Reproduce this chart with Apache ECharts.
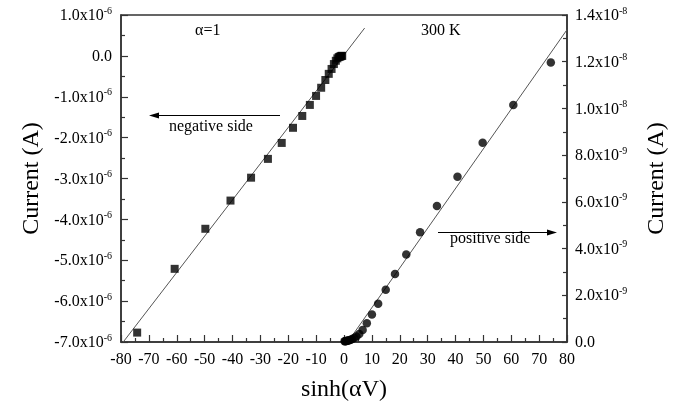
<!DOCTYPE html>
<html>
<head>
<meta charset="utf-8">
<script src="https://cdn.jsdelivr.net/npm/echarts@6/dist/echarts.min.js"></script>
<style>html,body{margin:0;padding:0;background:#fff}#c{width:684px;height:409px}</style>
</head>
<body>
<div id="c"></div>
<script>
// x values: sinh(alpha V)
const negX = [-74.2, -60.75, -49.74, -40.72, -33.34, -27.29, -22.34, -18.29, -14.97, -12.25, -10.02, -8.19, -6.69, -5.47, -4.46, -3.63, -2.94, -2.38, -1.9, -1.51, -1.18, -0.89, -0.64];
// negative side current, units of 1e-6 A (left axis)
const negI = [-6.77, -5.21, -4.23, -3.54, -2.98, -2.52, -2.13, -1.76, -1.47, -1.20, -0.98, -0.78, -0.59, -0.44, -0.32, -0.20, -0.12, -0.06, -0.03, -0.02, -0.01, 0.0, 0.0];
const posX = [0.2, 0.41, 0.64, 0.89, 1.18, 1.51, 1.9, 2.38, 2.94, 3.63, 4.46, 5.47, 6.69, 8.19, 10.02, 12.25, 14.97, 18.29, 22.34, 27.29, 33.34, 40.72, 49.74, 60.75, 74.2];
// positive side current, units of 1e-9 A (right axis)
const posI = [0.03, 0.03, 0.04, 0.04, 0.05, 0.06, 0.08, 0.10, 0.13, 0.17, 0.24, 0.34, 0.51, 0.80, 1.18, 1.64, 2.24, 2.91, 3.75, 4.70, 5.82, 7.08, 8.53, 10.15, 11.97];
// linear fits (end points)
const negFitX = [-79.2, 7.4];
const negFitI = [-7.0, 0.68];
const posFitX = [1.35, 80];
const posFitI = [0.0, 13.37];
// tick labels
const xTicks = [-80, -70, -60, -50, -40, -30, -20, -10, 0, 10, 20, 30, 40, 50, 60, 70, 80];
const leftTickMantissa = {"1": "1.0", "0": "0.0", "-1": "-1.0", "-2": "-2.0", "-3": "-3.0", "-4": "-4.0", "-5": "-5.0", "-6": "-6.0", "-7": "-7.0"};
const rightTickLabels = {"0": ["0.0", ""], "2": ["2.0", "-9"], "4": ["4.0", "-9"], "6": ["6.0", "-9"], "8": ["8.0", "-9"], "10": ["1.0", "-8"], "12": ["1.2", "-8"], "14": ["1.4", "-8"]};

const FONT = '"Liberation Serif","Times New Roman",serif';
const AX = '#333';
const rich = {
  m: {fontFamily: FONT, fontSize: 16, color: '#000', verticalAlign: 'bottom', lineHeight: 18},
  s: {fontFamily: FONT, fontSize: 10, color: '#000', verticalAlign: 'top', lineHeight: 16}
};

const chart = echarts.init(document.getElementById('c'), null, {renderer: 'canvas'});

const axisLine = {show: true, onZero: false, lineStyle: {color: AX, width: 1.5}};

chart.setOption({
  animation: false,
  backgroundColor: '#fff',
  grid: {left: 121, right: 117, top: 15, bottom: 67, show: true, borderColor: AX, borderWidth: 1.5, backgroundColor: 'transparent'},
  xAxis: {
    type: 'value', min: -80, max: 80, interval: 10,
    axisLine: axisLine,
    axisTick: {show: true, inside: true, length: 7, lineStyle: {color: AX, width: 1.2}},
    minorTick: {show: true, splitNumber: 2, length: 4, lineStyle: {color: AX, width: 1.2}},
    splitLine: {show: false},
    axisLabel: {margin: 10, fontFamily: FONT, fontSize: 16, color: '#000',
      formatter: v => xTicks.includes(v) ? String(v) : ''},
    name: 'sinh(\u03b1V)', nameLocation: 'middle', nameGap: 36,
    nameTextStyle: {fontFamily: FONT, fontSize: 24, color: '#000'}
  },
  yAxis: [{
    type: 'value', min: -7, max: 1, interval: 1, position: 'left',
    axisLine: axisLine,
    axisTick: {show: true, inside: true, length: 7, lineStyle: {color: AX, width: 1.2}},
    minorTick: {show: true, splitNumber: 2, length: 4, lineStyle: {color: AX, width: 1.2}},
    splitLine: {show: false},
    axisLabel: {margin: 9, rich: rich,
      formatter: v => { const k = String(Math.round(v)); if (k === '0') return '{m|0.0}'; return '{m|' + leftTickMantissa[k] + 'x10}{s|-6}'; }},
    name: 'Current (A)', nameLocation: 'middle', nameGap: 76, nameRotate: 90,
    nameTextStyle: {fontFamily: FONT, fontSize: 24, color: '#000'}
  }, {
    type: 'value', min: 0, max: 14, interval: 2, position: 'right',
    axisLine: axisLine,
    axisTick: {show: true, inside: true, length: 5, lineStyle: {color: AX, width: 1.2}},
    minorTick: {show: true, splitNumber: 2, length: 4, lineStyle: {color: AX, width: 1.2}},
    splitLine: {show: false},
    axisLabel: {margin: 8, rich: rich,
      formatter: v => { const e = rightTickLabels[String(Math.round(v))]; if (!e[1]) return '{m|' + e[0] + '}'; return '{m|' + e[0] + 'x10}{s|' + e[1] + '}'; }},
    name: 'Current (A)', nameLocation: 'middle', nameGap: 78, nameRotate: 90,
    nameTextStyle: {fontFamily: FONT, fontSize: 24, color: '#000'}
  }],
  series: [
    {type: 'line', xAxisIndex: 0, yAxisIndex: 0, data: negFitX.map((x, i) => [x, negFitI[i]]),
      showSymbol: false, symbol: 'none', lineStyle: {color: '#555', width: 1}, z: 1},
    {type: 'line', xAxisIndex: 0, yAxisIndex: 1, data: posFitX.map((x, i) => [x, posFitI[i]]),
      showSymbol: false, symbol: 'none', lineStyle: {color: '#555', width: 1}, z: 1},
    {type: 'scatter', xAxisIndex: 0, yAxisIndex: 0, data: negX.map((x, i) => [x, negI[i]]),
      symbol: 'rect', symbolSize: 8, itemStyle: {color: '#000'}, z: 3, clip: false},
    {type: 'scatter', xAxisIndex: 0, yAxisIndex: 1, data: posX.map((x, i) => [x, posI[i]]),
      symbol: 'circle', symbolSize: 8.5, itemStyle: {color: '#000'}, z: 3, clip: false}
  ],
  graphic: [
    {type: 'text', left: 195, top: 23, style: {text: '\u03b1=1', fontFamily: FONT, fontSize: 16, fill: '#000'}},
    {type: 'text', left: 421, top: 23, style: {text: '300 K', fontFamily: FONT, fontSize: 16, fill: '#000'}},
    {type: 'text', left: 169, top: 119, style: {text: 'negative side', fontFamily: FONT, fontSize: 16, fill: '#000'}},
    {type: 'text', left: 450, top: 231, style: {text: 'positive side', fontFamily: FONT, fontSize: 16, fill: '#000'}},
    {type: 'line', shape: {x1: 157, y1: 115.5, x2: 280, y2: 115.5}, style: {stroke: '#000', lineWidth: 1}},
    {type: 'polygon', shape: {points: [[149, 115.5], [159, 112.5], [159, 118.5]]}, style: {fill: '#000'}},
    {type: 'line', shape: {x1: 438, y1: 232.5, x2: 549, y2: 232.5}, style: {stroke: '#000', lineWidth: 1}},
    {type: 'polygon', shape: {points: [[557, 232.5], [547, 229.5], [547, 235.5]]}, style: {fill: '#000'}}
  ]
});
</script>
</body>
</html>
